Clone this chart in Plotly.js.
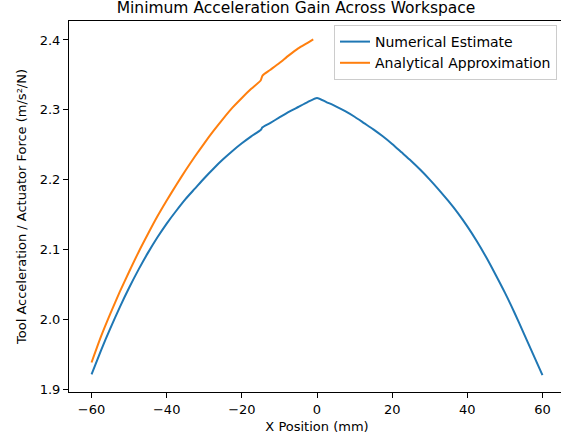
<!DOCTYPE html>
<html>
<head>
<meta charset="utf-8">
<script src="https://cdn.plot.ly/plotly-3.0.1.min.js"></script>
<style>
html,body{margin:0;padding:0;overflow:hidden;background:#fff;}
#chart{width:566px;height:442px;}
</style>
</head>
<body>
<div id="chart"></div>
<script>
// Numerical estimate (X position in mm, gain)
var numX = [-60, -57.5, -55, -52.5, -50, -47.5, -45, -42.5, -40, -37.5, -35, -32.5, -30, -27.5, -25, -22.5, -20, -17.5, -15, -14.5, -12.5, -10, -7.5, -5, -2.5, 0,
            2.5, 5, 7.5, 10, 12.5, 15, 17.5, 20, 22.5, 25, 27.5, 30, 32.5, 35, 37.5, 40, 42.5, 45, 47.5, 50, 52.5, 55, 57.5, 60];
var numY = [1.921, 1.955, 1.987, 2.017, 2.045, 2.071, 2.095, 2.117, 2.137, 2.155, 2.172, 2.187, 2.202, 2.216, 2.229, 2.241, 2.252, 2.262, 2.271, 2.275, 2.281, 2.289, 2.297, 2.304, 2.311, 2.317,
            2.311, 2.305, 2.298, 2.290, 2.281, 2.272, 2.262, 2.251, 2.239, 2.227, 2.214, 2.200, 2.185, 2.169, 2.152, 2.133, 2.112, 2.089, 2.064, 2.038, 2.010, 1.980, 1.950, 1.920];

// Analytical approximation
var anaX = [-60, -57.5, -55, -52.5, -50, -47.5, -45, -42.5, -40, -37.5, -35, -32.5, -30, -27.5, -25, -22.5, -20, -17.5, -15, -14.5, -12.5, -10, -7.5, -5, -2.5, -1];
var anaY = [1.938, 1.975, 2.008, 2.039, 2.068, 2.096, 2.122, 2.147, 2.170, 2.192, 2.213, 2.233, 2.252, 2.270, 2.287, 2.303, 2.317, 2.330, 2.342, 2.349, 2.357, 2.367, 2.378, 2.388, 2.396, 2.401];

var seriesNames = ["Numerical Estimate", "Analytical Approximation"];
var xTicks = [-60, -40, -20, 0, 20, 40, 60];
var yTicks = [1.9, 2.0, 2.1, 2.2, 2.3, 2.4];
var yTickText = ["1.9", "2.0", "2.1", "2.2", "2.3", "2.4"];

var FONT = "DejaVu Sans, sans-serif";

var traces = [
  {x: numX, y: numY, mode: "lines", name: seriesNames[0], line: {color: "#1f77b4", width: 2, shape: "spline", smoothing: 0.6}},
  {x: anaX, y: anaY, mode: "lines", name: seriesNames[1], line: {color: "#ff7f0e", width: 2, shape: "spline", smoothing: 0.6}}
];

var layout = {
  width: 566, height: 442,
  margin: {l: 69, r: 1, t: 21, b: 50},
  paper_bgcolor: "#fff", plot_bgcolor: "#fff",
  font: {family: FONT, size: 13, color: "#000"},
  title: {text: "Minimum Acceleration Gain Across Workspace", font: {family: FONT, size: 15.5, color: "#000"},
          x: 296/566, xanchor: "center", xref: "container", y: 1 - 8/442, yanchor: "middle", yref: "container"},
  xaxis: {range: [-66, 66], tickvals: xTicks, ticks: "outside", ticklen: 5, tickwidth: 1, tickcolor: "#000",
          showline: true, linecolor: "#000", linewidth: 1, mirror: true, showgrid: false, zeroline: false,
          tickfont: {family: FONT, size: 13, color: "#000"},
          title: {text: "X Position (mm)", font: {family: FONT, size: 13, color: "#000"}, standoff: 6}},
  yaxis: {range: [1.8957, 2.4272], tickvals: yTicks, ticktext: yTickText, ticks: "outside", ticklen: 5, tickwidth: 1, tickcolor: "#000",
          showline: true, linecolor: "#000", linewidth: 1, mirror: true, showgrid: false, zeroline: false,
          tickfont: {family: FONT, size: 13, color: "#000"},
          title: {text: "Tool Acceleration / Actuator Force (m/s²/N)", font: {family: FONT, size: 13, color: "#000"}, standoff: 10}},
  showlegend: true,
  legend: {x: (334-69)/496, y: (392-25)/371, xanchor: "left", yanchor: "top",
           bgcolor: "rgba(255,255,255,0.85)", bordercolor: "#cccccc", borderwidth: 1,
           font: {family: FONT, size: 14, color: "#000"}}
};

Plotly.newPlot("chart", traces, layout, {displayModeBar: false, staticPlot: true});
</script>
</body>
</html>
